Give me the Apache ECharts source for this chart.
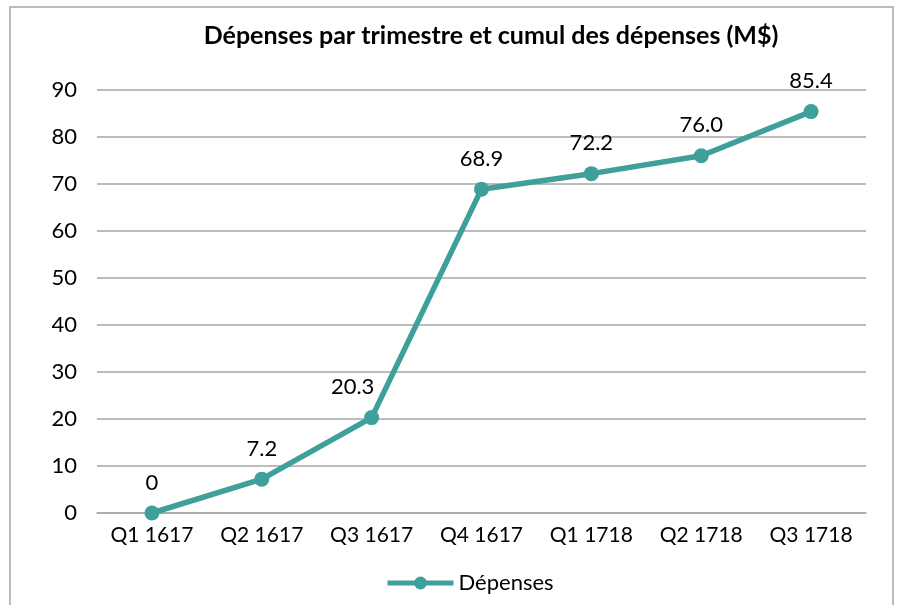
<!DOCTYPE html>
<html>
<head>
<meta charset="utf-8">
<script src="https://cdn.jsdelivr.net/npm/echarts@6/dist/echarts.min.js"></script>
<style>
  html, body { margin: 0; padding: 0; background: #fff; }
  #chart { width: 900px; height: 605px; }
</style>
</head>
<body>
<div id="chart"></div>
<script>
  // données
  var trimestres = ['Q1 1617', 'Q2 1617', 'Q3 1617', 'Q4 1617', 'Q1 1718', 'Q2 1718', 'Q3 1718'];
  var depenses = [0, 7.2, 20.3, 68.9, 72.2, 76.0, 85.4];
  var etiquettes = ['0', '7.2', '20.3', '68.9', '72.2', '76.0', '85.4'];

  var police = 'Lato, "Open Sans", sans-serif';
  var teal = '#3fa09b';

  // 20.3 est décalé à gauche dans l'original (la ligne passe au-dessus)
  var points = depenses.map(function (v, i) {
    var d = { value: v };
    if (i === 2) d.label = { offset: [-19, 0] };
    return d;
  });

  var chart = echarts.init(document.getElementById('chart'));
  chart.setOption({
    animation: false,
    textStyle: { fontFamily: police },
    graphic: [{
      type: 'rect',
      shape: { x: 10, y: 7, width: 883, height: 620 },
      style: { fill: 'none', stroke: '#a6a6a6', lineWidth: 1.5 },
      silent: true
    }],
    title: {
      text: 'Dépenses par trimestre et cumul des dépenses (M$)',
      left: 486,
      textAlign: 'center',
      top: 18,
      textStyle: { fontFamily: police, fontSize: 25, fontWeight: 'bold', color: '#000' }
    },
    legend: {
      bottom: 6,
      left: 380,
      itemWidth: 66,
      itemHeight: 16,
      itemGap: 6,
      lineStyle: { width: 5 },
      textStyle: { fontFamily: police, fontSize: 22, color: '#000' },
      data: ['Dépenses']
    },
    grid: { left: 97, right: 34, top: 90, bottom: 92, containLabel: false },
    xAxis: {
      type: 'category',
      data: trimestres,
      axisLine: { lineStyle: { color: '#a6a6a6', width: 1.5 } },
      axisTick: { show: false },
      axisLabel: { fontFamily: police, fontSize: 21, color: '#000', margin: 12, interval: 0 }
    },
    yAxis: {
      type: 'value',
      min: 0,
      max: 90,
      interval: 10,
      axisLine: { show: false },
      axisTick: { show: false },
      splitLine: { lineStyle: { color: '#a6a6a6', width: 1.5 } },
      axisLabel: { fontFamily: police, fontSize: 22, color: '#000', margin: 20 }
    },
    series: [{
      name: 'Dépenses',
      type: 'line',
      data: points,
      color: teal,
      lineStyle: { width: 5.5, color: teal },
      symbol: 'circle',
      symbolSize: 15,
      itemStyle: { color: teal },
      label: {
        show: true,
        position: 'top',
        distance: 12,
        fontFamily: police,
        fontSize: 22,
        color: '#000',
        formatter: function (p) { return etiquettes[p.dataIndex]; }
      }
    }]
  });
</script>
</body>
</html>
